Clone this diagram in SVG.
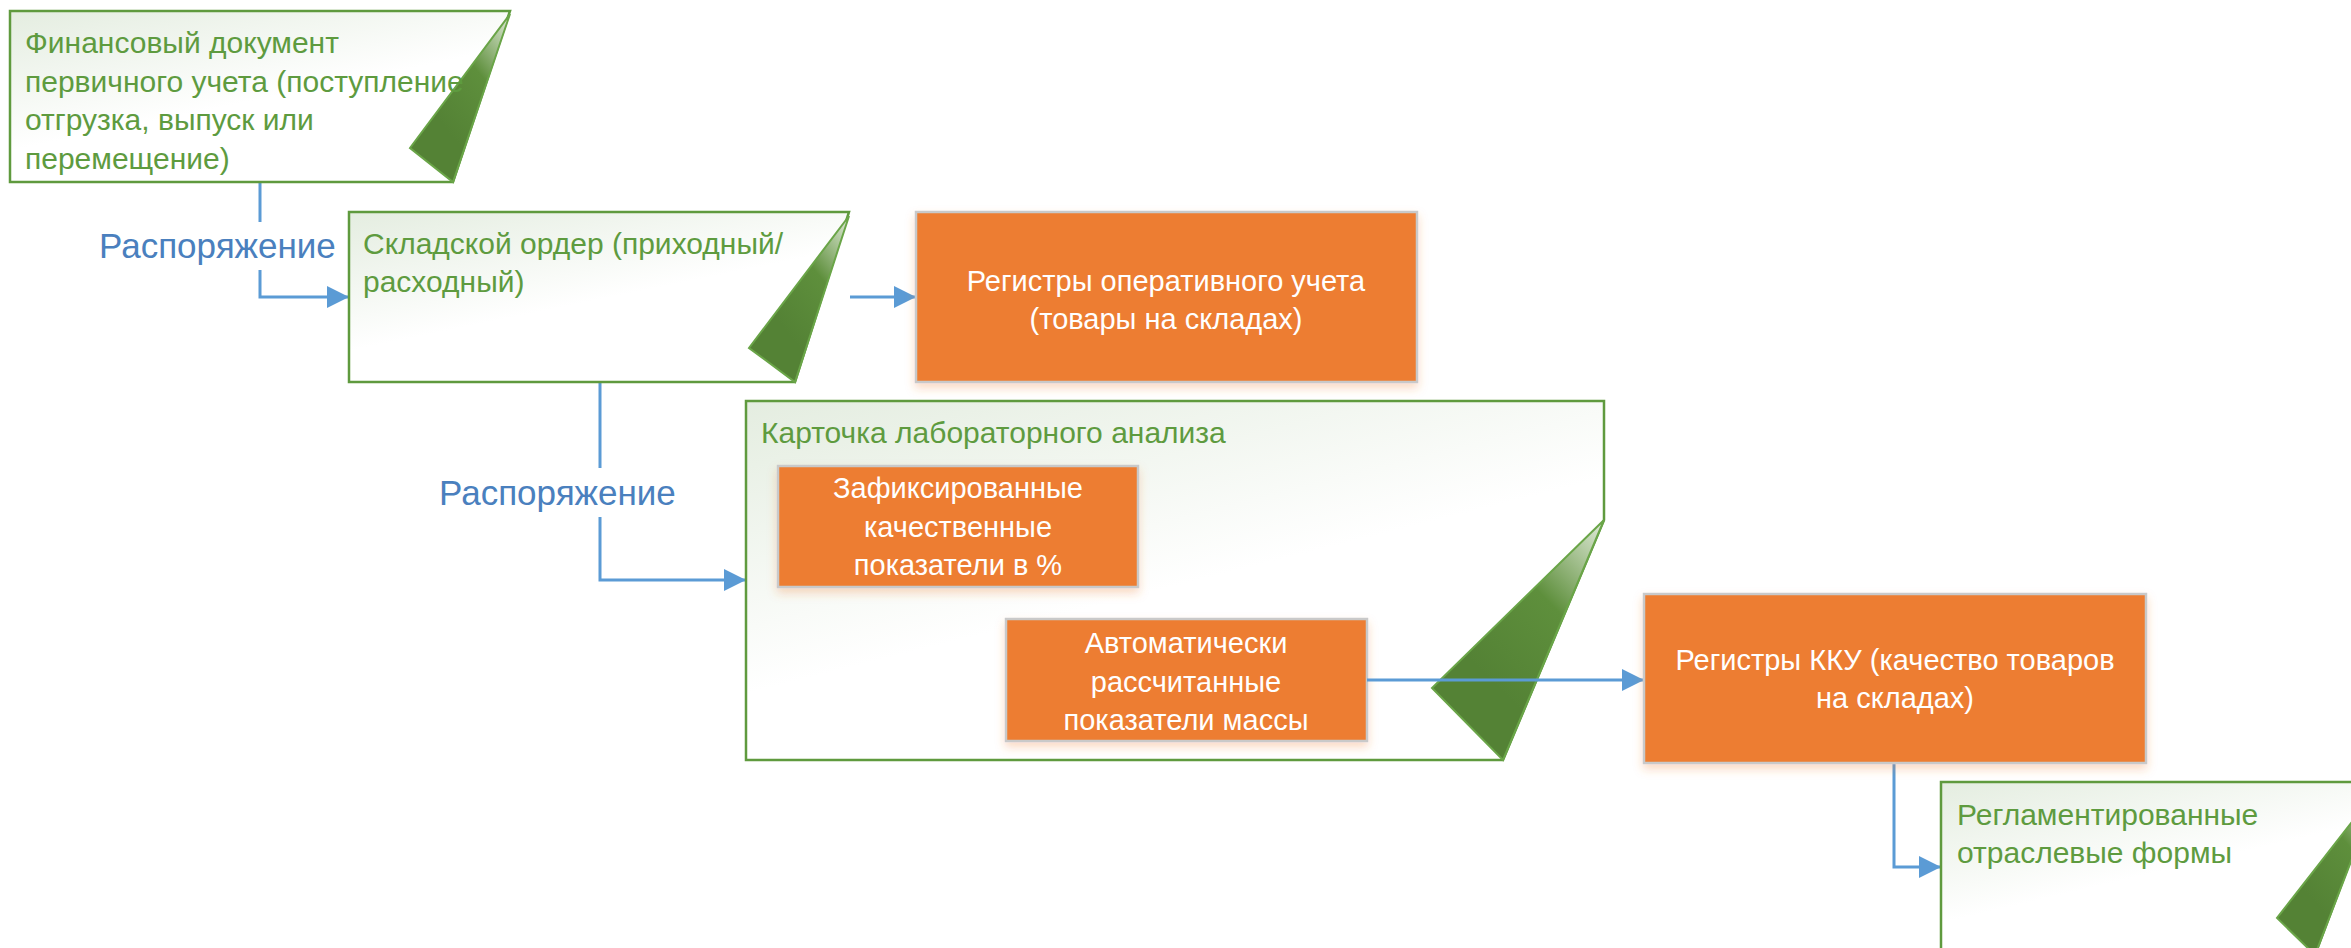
<svg xmlns="http://www.w3.org/2000/svg" width="2351" height="948" viewBox="0 0 2351 948">
<style>
.doc{stroke:#5F9A3E;stroke-width:2.5;fill:url(#docFill);stroke-linejoin:miter}
.fold{stroke:#6AA548;stroke-width:2;fill:url(#foldFill)}
.gt{font-family:"Liberation Sans",Arial,sans-serif;font-size:30px;fill:#5E9B3F}
.org{fill:#ED7D31;stroke:#C9C9C9;stroke-width:2.5;filter:url(#sh)}
.wt{font-family:"Liberation Sans",Arial,sans-serif;font-size:29px;fill:#FFFFFF;text-anchor:middle}
.lbl{font-family:"Liberation Sans",Arial,sans-serif;font-size:35px;fill:#4A80BE}
.cn{fill:none;stroke:#5B9BD5;stroke-width:3}
.ca{fill:none;stroke:#5B9BD5;stroke-width:3;marker-end:url(#arr)}
</style>
<defs>
<linearGradient id="docFill" x1="0" y1="0" x2="0.6" y2="1">
<stop offset="0" stop-color="#E4EDE0"/>
<stop offset="0.6" stop-color="#FFFFFF"/>
</linearGradient>
<linearGradient id="foldFill" x1="1" y1="0" x2="0.45" y2="0.75">
<stop offset="0" stop-color="#E3ECDC"/>
<stop offset="0.22" stop-color="#A9C496"/>
<stop offset="0.5" stop-color="#5E8F3C"/>
<stop offset="1" stop-color="#548235"/>
</linearGradient>
<filter id="sh" x="-10%" y="-10%" width="120%" height="130%">
<feDropShadow dx="0" dy="5" stdDeviation="5" flood-color="#ED7D31" flood-opacity="0.28"/>
</filter>
<marker id="arr" markerUnits="userSpaceOnUse" markerWidth="23" markerHeight="24" refX="22" refY="12" orient="auto">
<path d="M0,1 L22,12 L0,23 z" fill="#5B9BD5"/>
</marker>
</defs>

<g id="connectors">
<path class="cn" d="M260 182 V222"/>
<path class="ca" d="M260 270 V297 H349"/>
<path class="cn" d="M600 382 V468"/>
<path class="ca" d="M600 517 V580 H746"/>
<path class="ca" d="M850 297 H916"/>
<path class="ca" d="M958 588 V680 H1006"/>
<path class="ca" d="M1894 764 V867 H1941"/>
</g>

<g id="label1">
<text class="lbl" x="99" y="258">Распоряжение</text>
</g>
<g id="label2">
<text class="lbl" x="439" y="505">Распоряжение</text>
</g>

<g id="fin-doc">
<polygon class="doc" points="10,11 510,11 453,182 10,182"/>
<polygon class="fold" points="510,14 410,148 453,182"/>
<text class="gt" x="25" y="53">Финансовый документ</text>
<text class="gt" x="25" y="92">первичного учета (поступление</text>
<text class="gt" x="25" y="130">отгрузка, выпуск или</text>
<text class="gt" x="25" y="169">перемещение)</text>
</g>

<g id="order">
<polygon class="doc" points="349,212 849,212 795,382 349,382"/>
<polygon class="fold" points="849,216 749,348 795,382"/>
<text class="gt" x="363" y="254">Складской ордер (приходный/</text>
<text class="gt" x="363" y="292">расходный)</text>
</g>

<g id="op-reg">
<rect class="org" x="916" y="212" width="501" height="170"/>
<text class="wt" x="1166" y="291">Регистры оперативного учета</text>
<text class="wt" x="1166" y="329">(товары на складах)</text>
</g>

<g id="lab-card">
<polygon class="doc" points="746,401 1604,401 1604,520 1503,760 746,760"/>
<polygon class="fold" points="1604,520 1432,688 1503,760"/>
<text class="gt" x="761" y="443">Карточка лабораторного анализа</text>
</g>

<g id="fixed">
<rect class="org" x="778" y="466" width="360" height="121"/>
<text class="wt" x="958" y="498">Зафиксированные</text>
<text class="wt" x="958" y="537">качественные</text>
<text class="wt" x="958" y="575">показатели в %</text>
</g>

<g id="auto">
<rect class="org" x="1006" y="619" width="361" height="122"/>
<text class="wt" x="1186" y="653">Автоматически</text>
<text class="wt" x="1186" y="692">рассчитанные</text>
<text class="wt" x="1186" y="730">показатели массы</text>
</g>

<g id="connector-kku">
<path class="ca" d="M1367 680 H1644"/>
</g>

<g id="kku">
<rect class="org" x="1644" y="594" width="502" height="169"/>
<text class="wt" x="1895" y="670">Регистры ККУ (качество товаров</text>
<text class="wt" x="1895" y="708">на складах)</text>
</g>

<g id="forms">
<polygon class="doc" points="1941,782 2380,782 2315,955 1941,955"/>
<polygon class="fold" points="2380,786 2277,918 2315,955"/>
<text class="gt" x="1957" y="825">Регламентированные</text>
<text class="gt" x="1957" y="863">отраслевые формы</text>
</g>
</svg>
